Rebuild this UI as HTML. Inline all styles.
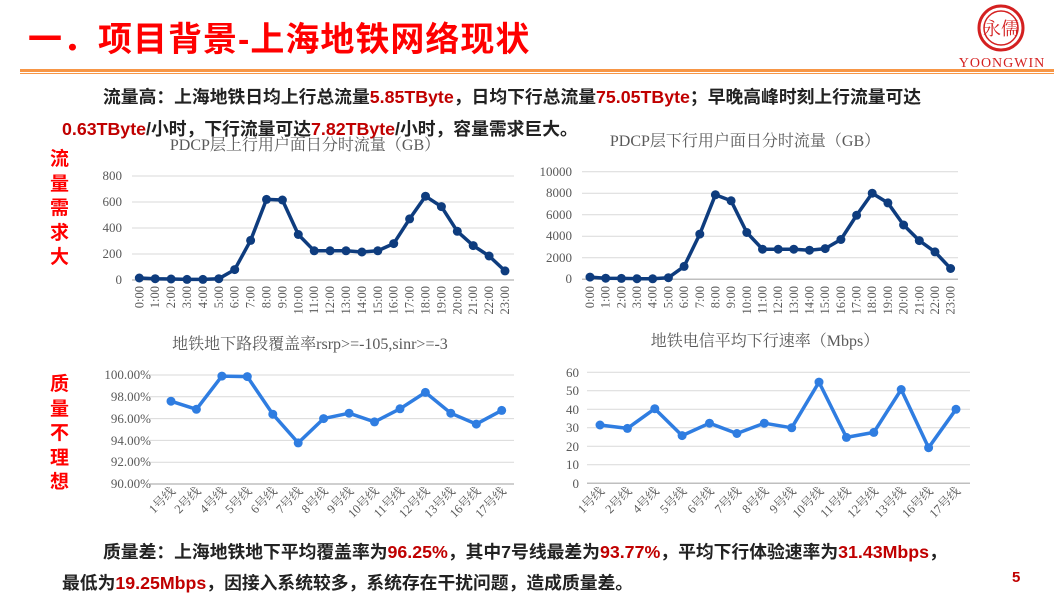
<!DOCTYPE html>
<html><head><meta charset="utf-8"><style>
body{margin:0;width:1054px;height:590px;background:#fff;overflow:hidden;position:relative;font-family:"Liberation Sans","Noto Sans CJK SC",sans-serif}
.t{position:absolute;white-space:nowrap}
.r{color:#c00000}
</style></head><body>
<div class="t" style="left:28px;top:12px;font-size:34px;font-weight:bold;color:#ff0000;letter-spacing:1px">一．项目背景-上海地铁网络现状</div>
<div style="position:absolute;left:20px;top:69px;width:1034px;height:3px;background:#f79646"></div>
<div style="position:absolute;left:20px;top:73px;width:1034px;height:1px;background:#f79646"></div>
<div class="t" style="left:103px;top:83px;font-size:17.8px;font-weight:bold;color:#222">流量高：上海地铁日均上行总流量<span class="r">5.85TByte</span>，日均下行总流量<span class="r">75.05TByte</span>；早晚高峰时刻上行流量可达</div>
<div class="t" style="left:62px;top:115px;font-size:17.8px;font-weight:bold;color:#222"><span class="r">0.63TByte</span>/小时，下行流量可达<span class="r">7.82TByte</span>/小时，容量需求巨大。</div>
<div class="t" style="left:50px;top:148px;width:22px;font-size:19px;font-weight:bold;color:#ff0000;line-height:24.5px;white-space:normal">流量需求大</div>
<div class="t" style="left:50px;top:373px;width:22px;font-size:19px;font-weight:bold;color:#ff0000;line-height:24.5px;white-space:normal">质量不理想</div>
<div class="t" style="left:103px;top:538px;font-size:17.8px;font-weight:bold;color:#222">质量差：上海地铁地下平均覆盖率为<span class="r">96.25%</span>，其中7号线最差为<span class="r">93.77%</span>，平均下行体验速率为<span class="r">31.43Mbps</span>，</div>
<div class="t" style="left:62px;top:569px;font-size:17.8px;font-weight:bold;color:#222">最低为<span class="r">19.25Mbps</span>，因接入系统较多，系统存在干扰问题，造成质量差。</div>
<div class="t" style="left:1012px;top:569px;font-size:15px;font-weight:bold;color:#c00000">5</div>
<svg width="1054" height="590" style="position:absolute;left:0;top:0" font-family="Liberation Serif,Noto Serif CJK SC,serif">
<circle cx="1001" cy="28" r="22" fill="none" stroke="#d42020" stroke-width="3"/>
<circle cx="1001" cy="28" r="17" fill="none" stroke="#d42020" stroke-width="1.5"/>
<text x="1001" y="35" font-size="18" fill="#d42020" text-anchor="middle">永儒</text>
<text x="1002" y="67" font-size="14" fill="#d42020" text-anchor="middle" letter-spacing="1">YOONGWIN</text>
<g fill="#595959" font-size="16" text-anchor="middle">
<text x="305" y="150">PDCP层上行用户面日分时流量（GB）</text>
<text x="745" y="146">PDCP层下行用户面日分时流量（GB）</text>
<text x="310" y="349">地铁地下路段覆盖率rsrp&gt;=-105,sinr&gt;=-3</text>
<text x="765" y="346">地铁电信平均下行速率（Mbps）</text>
</g>
<g stroke="#d9d9d9" stroke-width="1">
<path d="M132 176H514M132 202H514M132 228H514M132 254H514"/>
<path d="M582 171.7H958M582 193.2H958M582 214.7H958M582 236.3H958M582 257.8H958"/>
<path d="M150 375H514M150 396.8H514M150 418.6H514M150 440.4H514M150 462.2H514"/>
<path d="M587 372.3H970M587 390.8H970M587 409.3H970M587 427.8H970M587 446.3H970M587 464.8H970"/>
</g>
<g stroke="#bfbfbf" stroke-width="1.5">
<path d="M132 280H514M582 279.3H958M150 484H514M587 483.3H970"/>
</g>
<g fill="#595959" font-size="13" text-anchor="end">
<text x="122" y="180">800</text><text x="122" y="206">600</text><text x="122" y="232">400</text><text x="122" y="258">200</text><text x="122" y="284">0</text>
<text x="572" y="176">10000</text><text x="572" y="197">8000</text><text x="572" y="219">6000</text><text x="572" y="240">4000</text><text x="572" y="262">2000</text><text x="572" y="283">0</text>
<text x="151" y="379">100.00%</text><text x="151" y="401">98.00%</text><text x="151" y="423">96.00%</text><text x="151" y="445">94.00%</text><text x="151" y="466">92.00%</text><text x="151" y="488">90.00%</text>
<text x="579" y="377">60</text><text x="579" y="395">50</text><text x="579" y="414">40</text><text x="579" y="432">30</text><text x="579" y="451">20</text><text x="579" y="469">10</text><text x="579" y="488">0</text>
</g>
<g fill="#595959" font-size="12.5" text-anchor="end" id="x1"></g>
<polyline fill="none" stroke="#0e3c7e" stroke-width="3.5" stroke-linejoin="round" points="139.3,278 155.2,278.7 171.1,279 187,279.4 202.9,279.4 218.8,278.7 234.7,269.6 250.6,240.4 266.5,199.4 282.4,200 298.3,234.5 314.2,250.8 330.1,250.8 346,250.8 361.9,252 377.8,250.8 393.7,243.6 409.6,218.9 425.5,196.2 441.4,206.6 457.3,231.3 473.2,245.6 489.1,256 505,270.9"/>
<polyline fill="none" stroke="#0e3c7e" stroke-width="3.5" stroke-linejoin="round" points="590,277.1 605.7,278.2 621.4,278.4 637,278.7 652.7,278.8 668.4,277.7 684.1,266.4 699.8,234.1 715.4,194.8 731.1,200.8 746.8,232.5 762.5,249.2 778.2,249.2 793.8,249.2 809.5,250.2 825.2,248.6 840.9,239.5 856.6,215.3 872.2,193.2 887.9,202.9 903.6,225 919.3,240.6 935,251.9 950.6,268.5"/>
<polyline fill="none" stroke="#2f7de1" stroke-width="3.5" stroke-linejoin="round" points="171,401.2 196.4,409.3 221.9,376.1 247.3,376.6 272.8,414.2 298.2,442.9 323.6,418.6 349.1,413.2 374.5,421.9 400,408.8 425.4,392.4 450.8,413.2 476.3,424.1 501.7,410.4"/>
<polyline fill="none" stroke="#2f7de1" stroke-width="3.5" stroke-linejoin="round" points="600,425 627.4,428.4 654.8,408.7 682.1,435.6 709.5,423.2 736.9,433.5 764.3,423.2 791.7,427.8 819,382.1 846.4,437.4 873.8,432.4 901.2,389.5 928.6,447.7 956,409.3"/>
<g id="dots"></g>
</svg>
<script>
var ns="http://www.w3.org/2000/svg",svg=document.querySelector('svg'),d=document.getElementById('dots');
function dotsFrom(i,c){var pl=svg.querySelectorAll('polyline')[i];pl.getAttribute('points').trim().split(' ').forEach(function(p){var a=p.split(',');var e=document.createElementNS(ns,'circle');e.setAttribute('cx',a[0]);e.setAttribute('cy',a[1]);e.setAttribute('r',4.5);e.setAttribute('fill',c);d.appendChild(e);});}
dotsFrom(0,'#0e3c7e');dotsFrom(1,'#0e3c7e');dotsFrom(2,'#2f7de1');dotsFrom(3,'#2f7de1');
var g=document.getElementById('x1');
function txt(x,y,rot,s){var e=document.createElementNS(ns,'text');e.setAttribute('transform','translate('+x+','+y+') rotate('+rot+')');e.textContent=s;g.appendChild(e);}
for(var i=0;i<24;i++){txt(139.3+15.9*i+4,286,-90,i+':00');txt(590+15.68*i+4,286,-90,i+':00');}
var L=['1号线','2号线','4号线','5号线','6号线','7号线','8号线','9号线','10号线','11号线','12号线','13号线','16号线','17号线'];
for(var i=0;i<14;i++){txt(171+25.44*i+5,492,-45,L[i]);txt(600+27.38*i+5,492,-45,L[i]);}
</script>
</body></html>
